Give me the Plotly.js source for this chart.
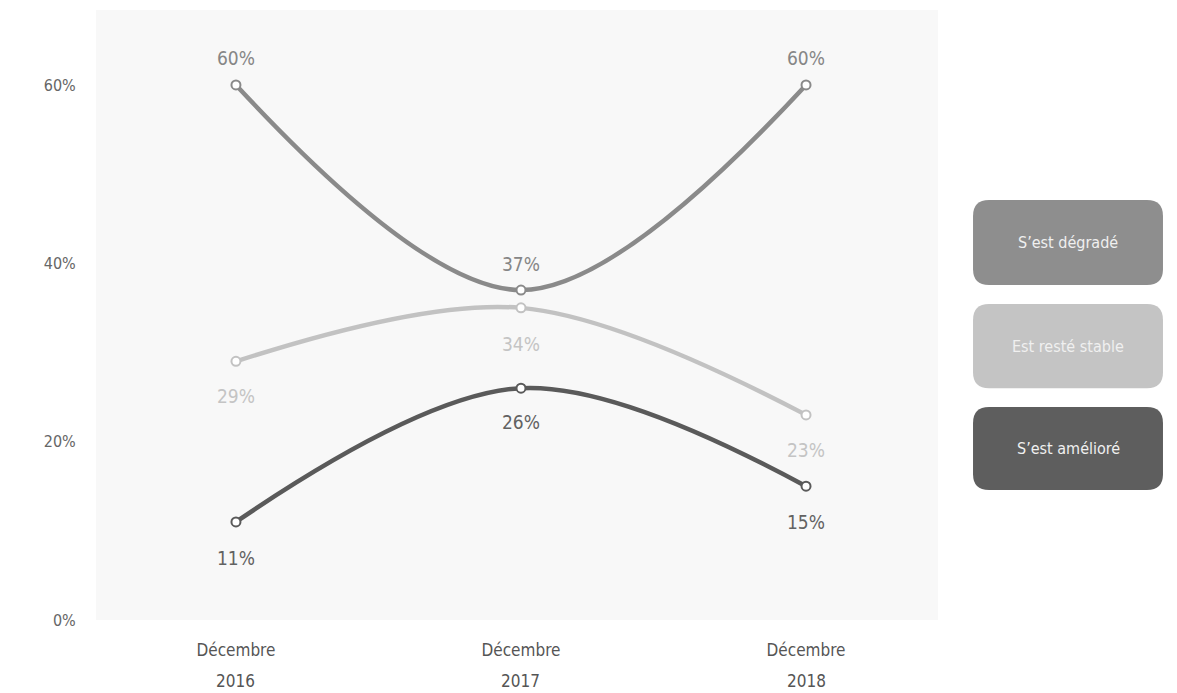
<!DOCTYPE html>
<html>
<head>
<meta charset="utf-8">
<script src="https://cdn.plot.ly/plotly-3.0.1.min.js"></script>
<style>html,body{margin:0;padding:0;background:#fff;}#chart{width:1177px;height:693px;}</style>
</head>
<body>
<div id="chart"></div>
<script>
const months = ["Décembre", "Décembre", "Décembre"];
const years = ["2016", "2017", "2018"];
const seriesNames = ["S’est dégradé", "Est resté stable", "S’est amélioré"];
const degrade = [60, 37, 60];
const stable = [29, 35, 23];
const ameliore = [11, 26, 15];
const degradeLabels = ["60%", "37%", "60%"];
const stableLabels = ["29%", "34%", "23%"];
const amelioreLabels = ["11%", "26%", "15%"];
const yTickVals = [0, 20, 40, 60];
const yTickText = ["0%", "20%", "40%", "60%"];

const FONT = "'DejaVu Sans Condensed', 'DejaVu Sans', sans-serif";
const STRETCH = "condensed";
const colors = ["#8a8a8a", "#c2c2c2", "#5a5a5a"];
const labelColors = ["#868686", "#c4c4c4", "#626262"];
const boxColors = ["#8e8e8e", "#c4c4c4", "#5e5e5e"];
const series = [degrade, stable, ameliore];
const labels = [degradeLabels, stableLabels, amelioreLabels];
const xIdx = [0, 1, 2];

const traces = series.map((vals, i) => ({
  type: "scatter",
  mode: "lines+markers",
  x: xIdx,
  y: vals,
  name: seriesNames[i],
  line: {color: colors[i], width: 4.5, shape: "spline", smoothing: 1},
  marker: {size: 9, color: "#ffffff", line: {color: colors[i], width: 2}},
  hoverinfo: "skip",
  showlegend: false
}));

const annotations = [];
const shifts = [[27, 26, 27], [-35, -36, -35], [-36, -34, -36]];
series.forEach((vals, i) => {
  vals.forEach((v, j) => {
    annotations.push({
      x: xIdx[j], y: v, xref: "x", yref: "y",
      xanchor: "center", yanchor: "middle",
      text: labels[i][j], showarrow: false,
      yshift: shifts[i][j],
      font: {family: FONT, stretch: STRETCH, size: 19, color: labelColors[i]}
    });
  });
});

// year line under the month tick labels
years.forEach((yr, j) => {
  annotations.push({
    x: xIdx[j], y: 0, xref: "x", yref: "paper",
    xanchor: "center", yanchor: "top", yshift: -49,
    text: yr, showarrow: false,
    font: {family: FONT, stretch: STRETCH, size: 17, color: "#555"}
  });
});

// legend boxes (paper coords)
const plotW = 842, plotH = 610;
const boxes = [[0.6885, 0.549], [0.518, 0.380], [0.349, 0.213]];
const bx0 = 1.0416, bx1 = 1.2672;
const rx = 16 / plotW, ry = 16 / plotH;
const shapes = boxes.map((b, i) => {
  const y1 = b[0], y0 = b[1];
  const p = `M ${bx0 + rx} ${y1} L ${bx1 - rx} ${y1} Q ${bx1} ${y1} ${bx1} ${y1 - ry} ` +
            `L ${bx1} ${y0 + ry} Q ${bx1} ${y0} ${bx1 - rx} ${y0} ` +
            `L ${bx0 + rx} ${y0} Q ${bx0} ${y0} ${bx0} ${y0 + ry} ` +
            `L ${bx0} ${y1 - ry} Q ${bx0} ${y1} ${bx0 + rx} ${y1} Z`;
  annotations.push({
    x: (bx0 + bx1) / 2, y: (y0 + y1) / 2, xref: "paper", yref: "paper",
    xanchor: "center", yanchor: "middle",
    text: seriesNames[i], showarrow: false,
    font: {family: FONT, stretch: STRETCH, size: 16, color: "#f0f0f0"}
  });
  return {type: "path", xref: "paper", yref: "paper", path: p,
          fillcolor: boxColors[i], line: {width: 0}, layer: "below"};
});

const layout = {
  width: 1177, height: 693,
  margin: {l: 96, r: 239, t: 10, b: 73},
  paper_bgcolor: "#ffffff",
  plot_bgcolor: "#f8f8f8",
  showlegend: false,
  font: {family: FONT, color: "#666"},
  xaxis: {
    range: [-0.491, 2.463],
    tickmode: "array", tickvals: xIdx, ticktext: months,
    showgrid: false, zeroline: false, showline: false,
    ticks: "outside", ticklen: 15, tickcolor: "rgba(0,0,0,0)",
    tickfont: {family: FONT, stretch: STRETCH, size: 17, color: "#555"},
    fixedrange: true
  },
  yaxis: {
    range: [0, 68.4],
    tickmode: "array", tickvals: yTickVals, ticktext: yTickText,
    showgrid: false, zeroline: false, showline: false,
    ticks: "outside", ticklen: 16, tickcolor: "rgba(0,0,0,0)",
    tickfont: {family: FONT, stretch: STRETCH, size: 16, color: "#666"},
    fixedrange: true
  },
  annotations: annotations,
  shapes: shapes
};

Plotly.newPlot("chart", traces, layout, {displayModeBar: false, staticPlot: true});
</script>
</body>
</html>
